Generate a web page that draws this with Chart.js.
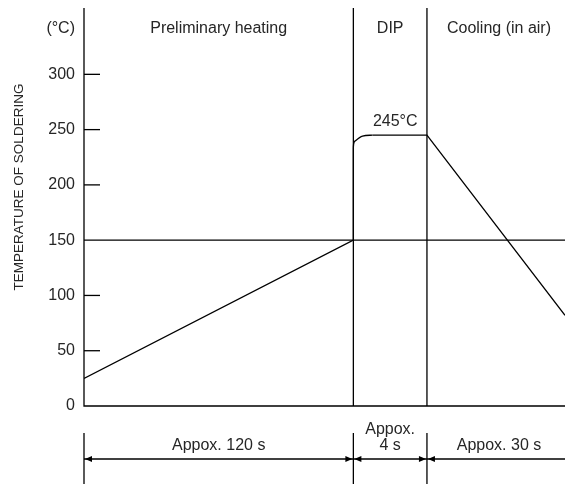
<!DOCTYPE html>
<html>
<head>
<meta charset="utf-8">
<script src="https://cdn.jsdelivr.net/npm/chart.js@4/dist/chart.umd.min.js"></script>
<style>
  html, body { margin: 0; padding: 0; background: #fff; }
  #wrap { width: 565px; height: 484px; }
</style>
</head>
<body>
<div id="wrap"><canvas id="c" width="565" height="484"></canvas></div>
<script>
// schematic x positions (not to time scale), 0..100 across the plot
const regionEdges = [0, 56, 71.3, 100];
const regionNames = ['Preliminary heating', 'DIP', 'Cooling (in air)'];
const durationLabels = [['Appox. 120 s'], ['Appox.', '4 s'], ['Appox. 30 s']];
const yTicks = [0, 50, 100, 150, 200, 250, 300];
const yMax = 360;
const limitTemp = 150;

// temperature profile, split where the curve rounds off
const preheatX = [0, 56, 56];
const preheatY = [25, 150, 234];
const cornerX = [56, 56.06, 56.45, 57.9, 60];
const cornerY = [234, 237.1, 240, 244.2, 245];
const dipCoolX = [60, 71.3, 100];
const dipCoolY = [245, 245, 82];

const peakLabel = { x: 64.7, y: 257, text: '245°C' };
const unitLabel = { y: 341, text: '(°C)' };
const yTitle = 'TEMPERATURE OF SOLDERING';

const FONT = '"Liberation Sans", Arial, sans-serif';
const INK = '#000';
const TEXT = '#262626';
const LW = 1.3;

const pts = (xs, ys) => xs.map((x, i) => ({ x: x, y: ys[i] }));
const line = (data, extra) => Object.assign({
  data: data, borderColor: INK, borderWidth: LW, pointRadius: 0, fill: false, tension: 0
}, extra || {});

const datasets = [
  line(pts(preheatX, preheatY)),
  line(pts(cornerX, cornerY), { cubicInterpolationMode: 'monotone' }),
  line(pts(dipCoolX, dipCoolY)),
  line(pts([regionEdges[0], regionEdges[3]], [limitTemp, limitTemp])),
  line(pts([regionEdges[1], regionEdges[1]], [0, yMax]), { clip: false }),
  line(pts([regionEdges[2], regionEdges[2]], [0, yMax]), { clip: false })
];

function arrowHead(ctx, x, y, dir){
  ctx.beginPath();
  ctx.moveTo(x, y);
  ctx.lineTo(x - dir * 7, y - 3);
  ctx.lineTo(x - dir * 7, y + 3);
  ctx.closePath();
  ctx.fill();
}

const decor = {
  id: 'decor',
  afterDatasetsDraw(chart){
    const ctx = chart.ctx, a = chart.chartArea;
    const xs = chart.scales.x, ys = chart.scales.y;
    ctx.save();
    ctx.strokeStyle = INK; ctx.fillStyle = INK; ctx.lineWidth = LW;

    // axes
    ctx.beginPath();
    ctx.moveTo(a.left, a.top); ctx.lineTo(a.left, a.bottom); ctx.lineTo(a.right, a.bottom);
    ctx.stroke();
    // inner tick marks
    yTicks.forEach(v => {
      if (v === 0 || v === limitTemp) return;
      const y = ys.getPixelForValue(v);
      ctx.beginPath(); ctx.moveTo(a.left, y); ctx.lineTo(a.left + 16, y); ctx.stroke();
    });

    ctx.fillStyle = TEXT;
    ctx.font = '16px ' + FONT;
    ctx.textBaseline = 'middle';
    // unit label
    ctx.textAlign = 'right';
    ctx.fillText(unitLabel.text, a.left - 9, ys.getPixelForValue(unitLabel.y));
    // region names
    ctx.textAlign = 'center';
    regionNames.forEach((n, i) => {
      const cx = (xs.getPixelForValue(regionEdges[i]) + xs.getPixelForValue(regionEdges[i + 1])) / 2;
      ctx.fillText(n, cx + (i === 2 ? 3 : 0), ys.getPixelForValue(unitLabel.y));
    });
    // peak label
    ctx.fillText(peakLabel.text, xs.getPixelForValue(peakLabel.x), ys.getPixelForValue(peakLabel.y));

    // y title
    ctx.save();
    ctx.font = '13.5px ' + FONT;
    ctx.translate(19, 187);
    ctx.rotate(-Math.PI / 2);
    ctx.fillText(yTitle, 0, 0);
    ctx.restore();

    // duration dimension lines
    const b = a.bottom, H = chart.height;
    const arrowY = b + 53;
    ctx.fillStyle = INK;
    regionEdges.slice(0, 3).forEach(v => {
      const x = xs.getPixelForValue(v);
      ctx.beginPath(); ctx.moveTo(x, b + 27); ctx.lineTo(x, H); ctx.stroke();
    });
    durationLabels.forEach((lbl, i) => {
      const x0 = xs.getPixelForValue(regionEdges[i]);
      const x1 = xs.getPixelForValue(regionEdges[i + 1]);
      ctx.beginPath(); ctx.moveTo(x0, arrowY); ctx.lineTo(x1, arrowY); ctx.stroke();
      arrowHead(ctx, x0 + 1, arrowY, -1);
      if (i < 2) arrowHead(ctx, x1 - 1, arrowY, 1);
      ctx.save();
      ctx.fillStyle = TEXT;
      ctx.textAlign = 'center';
      const cx = (x0 + x1) / 2 + (i === 2 ? 3 : 0);
      lbl.forEach((t, k) => {
        ctx.fillText(t, cx, b + 40 - (lbl.length - 1 - k) * 16);
      });
      ctx.restore();
    });
    ctx.restore();
  }
};

new Chart(document.getElementById('c'), {
  type: 'line',
  data: { datasets: datasets },
  options: {
    responsive: false,
    animation: false,
    layout: { padding: { top: 8, bottom: 78, left: 0, right: 0 } },
    plugins: { legend: { display: false }, tooltip: { enabled: false } },
    scales: {
      x: { type: 'linear', min: regionEdges[0], max: regionEdges[3], display: false },
      y: {
        type: 'linear', min: 0, max: yMax,
        afterBuildTicks: s => { s.ticks = yTicks.map(v => ({ value: v })); },
        afterFit: s => { s.width = 84; s.paddingTop = 0; s.paddingBottom = 0; },
        grid: { display: false, drawTicks: false },
        border: { display: false },
        ticks: { padding: 9, color: TEXT, font: { family: FONT, size: 16 } }
      }
    }
  },
  plugins: [decor]
});
</script>
</body>
</html>
